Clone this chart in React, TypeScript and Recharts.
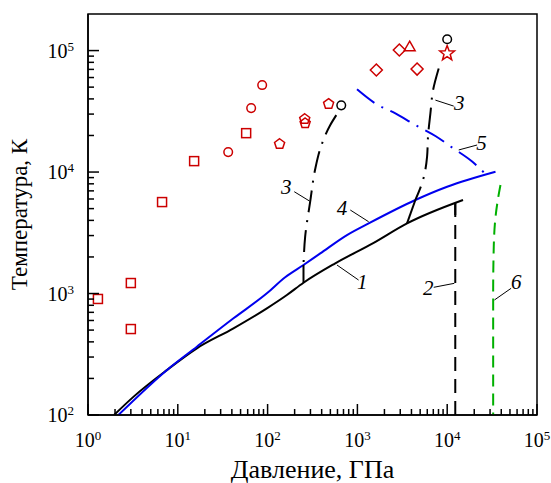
import { ComposedChart, Line, Scatter, XAxis, YAxis, ReferenceArea, ReferenceLine, ReferenceDot } from "recharts"

const RED = "#cc0000"
const BLUE = "#0000ee"
const GREEN = "#00b000"
const FONT = '"Liberation Serif", "Times New Roman", serif'

type Pt = { x: number; y: number }
const pts = (arr: number[][]): Pt[] => arr.map(([x, y]) => ({ x, y }))

// давление (ГПа), температура (К)
const curve1 = pts([
  [1.95, 100], [3.2, 141], [7.54, 234], [16.3, 354], [41.7, 517], [98.2, 755], [164, 972],
  [251, 1227], [567, 1773], [1500, 2600], [3570, 3780], [15000, 5890],
])
const curve2 = pts([[12300, 5560], [12300, 100]])
const curve2Head = pts([[12300, 5560], [12300, 4430]])
const curve3Left = pts([[582, 29400], [499, 24400], [393, 16200], [340, 10700], [298, 5700], [262, 2940], [251, 1717]])
const curve3LeftFoot = pts([[251, 1717], [251, 1227]])
const curve3Right = pts([[8040, 71300], [6960, 47300], [6500, 30400], [6120, 19800], [5970, 13400], [5380, 8600], [4420, 5890]])
const curve3RightFoot = pts([[4420, 5890], [3570, 3780]])
const curve4 = pts([
  [2.18, 100], [7.54, 234], [16.3, 365], [41.7, 625], [98.2, 1004], [157, 1360], [251, 1717],
  [386, 2140], [765, 3030], [1334, 3780], [4420, 5890], [9980, 7570], [34500, 10060],
])
const curve5 = pts([[990, 48000], [1585, 36700], [2650, 30400], [4420, 24400], [7390, 19800], [11650, 15700], [18950, 12200], [26700, 9640]])
const curve6 = pts([[39200, 7820], [36600, 5890], [34400, 4160], [33000, 2430], [32500, 1005], [32500, 100]])

// экспериментальные точки
const squares = pts([[1.29, 902], [3.0, 1220], [3.0, 510], [6.68, 5660], [15.2, 12300], [57.7, 20900]])
const circles = pts([[36.4, 14600], [65.6, 33600], [87, 52000]])
const pentagons = pts([[136, 17000], [259, 27300], [262, 25200], [478, 36300]])
const diamonds = pts([[1625, 69200], [2930, 101000], [4620, 70400]])
const triangles = pts([[3820, 109000]])
const stars = pts([[9980, 94800]])
const blackCircles = pts([[661, 35400], [10000, 124000]])

// номера кривых и выноски: подпись, начало выноски, конец выноски
const callouts = [
  { text: "1", at: [1134, 1244], from: [592, 1717], to: [1031, 1291] },
  { text: "2", at: [6170, 1120], from: [12000, 1213], to: [7080, 1125] },
  { text: "3", at: [161, 7530], from: [293, 5770], to: [198, 6890] },
  { text: "3", at: [13580, 36700], from: [7390, 39100], to: [11820, 34900] },
  { text: "4", at: [673, 5100], from: [1334, 3900], to: [833, 4870] },
  { text: "5", at: [24060, 17300], from: [13440, 15200], to: [21540, 16700] },
  { text: "6", at: [58600, 1250], from: [33600, 885], to: [51500, 1104] },
]

const decades = (from: number, to: number) => {
  const out: number[] = []
  for (let d = from; d < to; d *= 10) for (let k = 1; k < 10; k++) out.push(k * d)
  out.push(to)
  return out
}
const xTicks = decades(1, 100000)
const yTicks = decades(100, 100000)

const X_GAP = 10
const Y_GAP = 14

const isDecade = (v: number) => Math.abs(Math.log10(v) - Math.round(Math.log10(v))) < 1e-6

const Power = ({ v }: { v: number }) => (
  <>
    10<tspan dy={-7} fontSize={13}>{Math.round(Math.log10(v))}</tspan>
  </>
)

const XTick = ({ x, y, payload }: any) => {
  const v = payload.value
  const major = isDecade(v)
  const axisY = y - X_GAP
  return (
    <g>
      <line x1={x} x2={x} y1={axisY} y2={axisY - (major ? 11 : 6)} stroke="#000" strokeWidth={1.5} />
      {major && (
        <text x={x} y={axisY + 32} textAnchor="middle" fontFamily={FONT} fontSize={20} fill="#000">
          <Power v={v} />
        </text>
      )}
    </g>
  )
}

const YTick = ({ x, y, payload }: any) => {
  const v = payload.value
  const major = isDecade(v)
  const axisX = x + Y_GAP
  return (
    <g>
      <line x1={axisX} x2={axisX + (major ? 11 : 6)} y1={y} y2={y} stroke="#000" strokeWidth={1.5} />
      {major && (
        <text x={x} y={y + 7} textAnchor="end" fontFamily={FONT} fontSize={20} fill="#000">
          <Power v={v} />
        </text>
      )}
    </g>
  )
}

const xTitle = ({ viewBox }: any) => (
  <text x={viewBox.x + viewBox.width / 2} y={viewBox.y + 63} textAnchor="middle" fontFamily={FONT} fontSize={26} fill="#000">
    Давление, ГПа
  </text>
)

const yTitle = ({ viewBox }: any) => {
  const cx = viewBox.x - 1
  const cy = viewBox.y + viewBox.height / 2
  return (
    <text transform={`translate(${cx},${cy}) rotate(-90)`} textAnchor="middle" fontFamily={FONT} fontSize={23} fill="#000">
      Температура, К
    </text>
  )
}

// маркеры
const Square = ({ cx, cy }: any) => <rect x={cx - 4.5} y={cy - 4.5} width={9} height={9} fill="none" stroke={RED} strokeWidth={1.5} />
const Ring = ({ cx, cy }: any) => <circle cx={cx} cy={cy} r={4.3} fill="none" stroke={RED} strokeWidth={1.5} />
const BlackRing = ({ cx, cy }: any) => <circle cx={cx} cy={cy} r={4.3} fill="none" stroke="#000" strokeWidth={1.5} />

const polygon = (cx: number, cy: number, n: number, r: number, rot = -Math.PI / 2, inner = 0) => {
  const out: string[] = []
  const steps = inner ? n * 2 : n
  for (let i = 0; i < steps; i++) {
    const rr = inner && i % 2 ? inner : r
    const a = rot + (i * 2 * Math.PI) / steps
    out.push(`${cx + rr * Math.cos(a)},${cy + rr * Math.sin(a)}`)
  }
  return out.join(" ")
}

const Pentagon = ({ cx, cy }: any) => <polygon points={polygon(cx, cy, 5, 5.3)} fill="none" stroke={RED} strokeWidth={1.5} />
const Diamond = ({ cx, cy }: any) => <polygon points={polygon(cx, cy, 4, 6)} fill="none" stroke={RED} strokeWidth={1.5} />
const Triangle = ({ cx, cy }: any) => <polygon points={polygon(cx, cy + 1.5, 3, 6.3)} fill="none" stroke={RED} strokeWidth={1.5} />
const Star = ({ cx, cy }: any) => <polygon points={polygon(cx, cy, 5, 7.8, -Math.PI / 2, 3.3)} fill="none" stroke={RED} strokeWidth={1.5} />

const DASH_DOT = "22 8 2 8"

export default function App() {
  return (
    <div style={{ position: "absolute", left: 0, top: 0 }}>
      <ComposedChart width={551} height={483} margin={{ top: 14, right: 14, bottom: 28, left: 28 }}>
        <XAxis
          dataKey="x"
          type="number"
          scale="log"
          domain={[1, 100000]}
          allowDataOverflow
          ticks={xTicks}
          interval={0}
          tick={<XTick />}
          tickLine={false}
          tickSize={0}
          tickMargin={X_GAP}
          height={40}
          axisLine={{ stroke: "#000", strokeWidth: 1.5 }}
          label={xTitle}
        />
        <YAxis
          dataKey="y"
          type="number"
          scale="log"
          domain={[100, 200000]}
          allowDataOverflow
          ticks={yTicks}
          interval={0}
          tick={<YTick />}
          tickLine={false}
          tickSize={0}
          tickMargin={Y_GAP}
          width={60}
          axisLine={{ stroke: "#000", strokeWidth: 1.5 }}
          label={yTitle}
        />
        <ReferenceArea x1={1} x2={100000} y1={100} y2={200000} fill="none" stroke="#000" strokeWidth={1.5} ifOverflow="visible" />

        <Line data={curve6} dataKey="y" type="monotoneY" stroke={GREEN} strokeWidth={2} strokeDasharray="12 7" dot={false} activeDot={false} isAnimationActive={false} />
        <Line data={curve2} dataKey="y" type="linear" stroke="#000" strokeWidth={2} strokeDasharray="14 8" dot={false} activeDot={false} isAnimationActive={false} />
        <Line data={curve2Head} dataKey="y" type="linear" stroke="#000" strokeWidth={2} dot={false} activeDot={false} isAnimationActive={false} />
        <Line data={curve1} dataKey="y" type="monotone" stroke="#000" strokeWidth={2} dot={false} activeDot={false} isAnimationActive={false} />
        <Line data={curve4} dataKey="y" type="monotone" stroke={BLUE} strokeWidth={2} dot={false} activeDot={false} isAnimationActive={false} />
        <Line data={curve5} dataKey="y" type="monotone" stroke={BLUE} strokeWidth={2} strokeDasharray={DASH_DOT} dot={false} activeDot={false} isAnimationActive={false} />
        <Line data={curve3Left} dataKey="y" type="monotoneY" stroke="#000" strokeWidth={2} strokeDasharray={DASH_DOT} dot={false} activeDot={false} isAnimationActive={false} />
        <Line data={curve3LeftFoot} dataKey="y" type="linear" stroke="#000" strokeWidth={2} dot={false} activeDot={false} isAnimationActive={false} />
        <Line data={curve3Right} dataKey="y" type="monotoneY" stroke="#000" strokeWidth={2} strokeDasharray={DASH_DOT} dot={false} activeDot={false} isAnimationActive={false} />
        <Line data={curve3RightFoot} dataKey="y" type="linear" stroke="#000" strokeWidth={2} dot={false} activeDot={false} isAnimationActive={false} />

        <Scatter data={squares} shape={<Square />} isAnimationActive={false} />
        <Scatter data={circles} shape={<Ring />} isAnimationActive={false} />
        <Scatter data={pentagons} shape={<Pentagon />} isAnimationActive={false} />
        <Scatter data={diamonds} shape={<Diamond />} isAnimationActive={false} />
        <Scatter data={triangles} shape={<Triangle />} isAnimationActive={false} />
        <Scatter data={stars} shape={<Star />} isAnimationActive={false} />
        <Scatter data={blackCircles} shape={<BlackRing />} isAnimationActive={false} />

        {callouts.map((c, i) => (
          <ReferenceLine
            key={`lead-${i}`}
            segment={[{ x: c.from[0], y: c.from[1] }, { x: c.to[0], y: c.to[1] }]}
            stroke="#000"
            strokeWidth={1}
            ifOverflow="visible"
          />
        ))}
        {callouts.map((c, i) => (
          <ReferenceDot
            key={`num-${i}`}
            x={c.at[0]}
            y={c.at[1]}
            r={0}
            ifOverflow="visible"
            shape={(p: any) => (
              <text x={p.cx} y={p.cy + 7} textAnchor="middle" fontFamily={FONT} fontStyle="italic" fontSize={21} fill="#000">
                {c.text}
              </text>
            )}
          />
        ))}
      </ComposedChart>
    </div>
  )
}
